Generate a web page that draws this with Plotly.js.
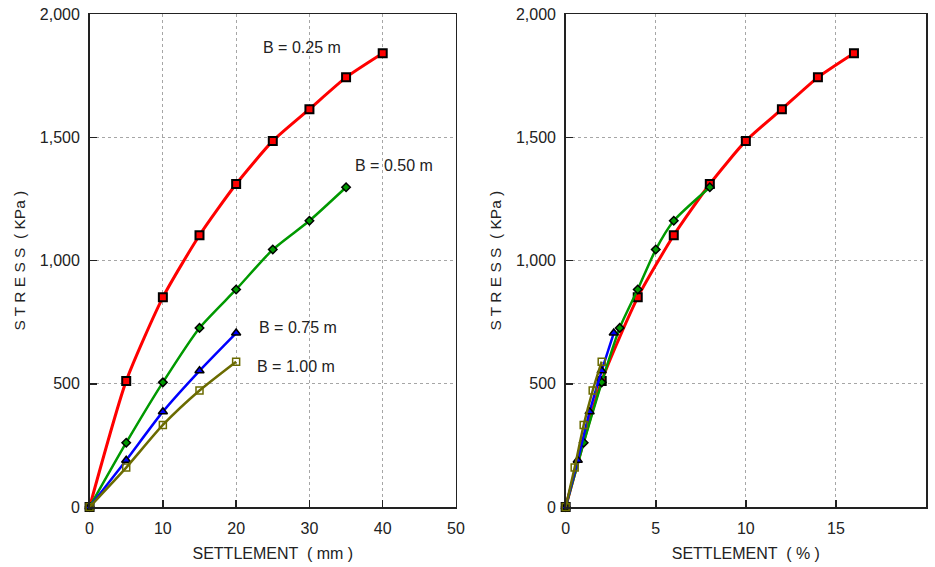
<!DOCTYPE html>
<html>
<head>
<meta charset="utf-8">
<script src="https://cdn.plot.ly/plotly-3.0.1.min.js"></script>
<style>
  html, body { margin: 0; padding: 0; background: #ffffff; }
  #chart { width: 935px; height: 567px; }
</style>
</head>
<body>
<div id="chart"></div>
<script>
// Plate load tests: stress vs settlement for four plate widths B.

// Settlement in mm (left panel)
const settleMm_025 = [0, 5, 10, 15, 20, 25, 30, 35, 40];
const settleMm_050 = [0, 5, 10, 15, 20, 25, 30, 35];
const settleMm_075 = [0, 5, 10, 15, 20];
const settleMm_100 = [0, 5, 10, 15, 20];

// Settlement in % of plate width (right panel)
const settlePct_025 = [0, 2, 4, 6, 8, 10, 12, 14, 16];
const settlePct_050 = [0, 1, 2, 3, 4, 5, 6, 8];
const settlePct_075 = [0, 0.67, 1.33, 2, 2.67];
const settlePct_100 = [0, 0.5, 1, 1.5, 2];

// Stress in KPa
const stress_025 = [0, 512, 851, 1103, 1311, 1486, 1615, 1744, 1842];
const stress_050 = [0, 261, 506, 727, 883, 1045, 1162, 1298];
const stress_075 = [0, 190, 387, 553, 706];
const stress_100 = [0, 160, 333, 473, 590];

const seriesNames = ['B = 0.25 m', 'B = 0.50 m', 'B = 0.75 m', 'B = 1.00 m'];

const xTicksMm = [0, 10, 20, 30, 40, 50];
const xTicksPct = [0, 5, 10, 15, 20];
const yTicks = [0, 500, 1000, 1500, 2000];

const FONT = 'Liberation Sans, Arial, sans-serif';
const INK = '#222222';

const styles = [
  { line: '#ff0000', width: 3, marker: { symbol: 'square', size: 8, color: '#ff0000', line: { color: '#000000', width: 2 } } },
  { line: '#009900', width: 2.5, marker: { symbol: 'diamond', size: 6.5, color: '#009900', line: { color: '#000000', width: 1.5 } } },
  { line: '#0000ff', width: 2.5, marker: { symbol: 'triangle-up', size: 8, color: '#0000ff', line: { color: '#000000', width: 1.5 } } },
  { line: '#6b6b00', width: 2.5, marker: { symbol: 'square-open', size: 7, color: '#6b6b00', line: { color: '#6b6b00', width: 1.5 } } }
];

const xsMm = [settleMm_025, settleMm_050, settleMm_075, settleMm_100];
const xsPct = [settlePct_025, settlePct_050, settlePct_075, settlePct_100];
const ys = [stress_025, stress_050, stress_075, stress_100];

const traces = [];
[['x', 'y', xsMm], ['x2', 'y2', xsPct]].forEach(([xa, ya, xs]) => {
  for (let i = 0; i < 4; i++) {
    const s = styles[i];
    traces.push({
      type: 'scatter', mode: 'lines+markers',
      x: xs[i], y: ys[i], xaxis: xa, yaxis: ya,
      name: seriesNames[i], showlegend: false,
      line: { color: s.line, width: s.width, shape: 'spline', smoothing: 0.6 },
      marker: s.marker,
      cliponaxis: false
    });
  }
});

function xAxis(domain, range, ticks, title, anchor) {
  return {
    domain: domain, range: range, anchor: anchor,
    tickmode: 'array', tickvals: ticks,
    ticks: 'inside', ticklen: 7, tickwidth: 1.5, tickcolor: INK,
    ticklabelstandoff: 6,
    showline: true, linecolor: INK, linewidth: 1.5, mirror: true,
    showgrid: true, gridcolor: '#a6a6a6', griddash: 'dot', gridwidth: 1,
    zeroline: false,
    tickfont: { family: FONT, size: 16, color: INK },
    title: { text: title, font: { family: FONT, size: 16, color: INK }, standoff: 12 }
  };
}
function yAxis(domain, anchor, standoff) {
  return {
    domain: domain, range: [0, 2000], anchor: anchor,
    tickmode: 'array', tickvals: yTicks, tickformat: ',d',
    ticks: 'inside', ticklen: 7, tickwidth: 1.5, tickcolor: INK,
    ticklabelstandoff: 5,
    showline: true, linecolor: INK, linewidth: 1.5, mirror: true,
    showgrid: true, gridcolor: '#a6a6a6', griddash: 'dot', gridwidth: 1,
    zeroline: false,
    tickfont: { family: FONT, size: 16, color: INK },
    title: { text: 'S T R E S S  ( KPa )', font: { family: FONT, size: 15.5, color: INK }, standoff: standoff }
  };
}

const yDom = [0.1058, 0.9748];

const labelFont = { family: FONT, size: 16, color: INK };
const annotations = [
  { x: 29.0, y: 1867, text: seriesNames[0] },
  { x: 41.5, y: 1387, text: seriesNames[1] },
  { x: 28.4, y: 727, text: seriesNames[2] },
  { x: 28.2, y: 572, text: seriesNames[3] }
].map(a => Object.assign({ xref: 'x', yref: 'y', showarrow: false, font: labelFont }, a));

const layout = {
  width: 935, height: 567,
  margin: { l: 0, r: 0, t: 0, b: 0 },
  paper_bgcolor: '#ffffff', plot_bgcolor: '#ffffff',
  showlegend: false,
  xaxis: xAxis([0.0958, 0.4877], [0, 50], xTicksMm, 'SETTLEMENT  ( mm )', 'y'),
  yaxis: yAxis(yDom, 'x', 10),
  xaxis2: xAxis([0.605, 0.9904], [0, 20], xTicksPct, 'SETTLEMENT  ( % )', 'y2'),
  yaxis2: yAxis(yDom, 'x2', 10),
  annotations: annotations
};

Plotly.newPlot('chart', traces, layout, { staticPlot: true, displayModeBar: false });
</script>
</body>
</html>
